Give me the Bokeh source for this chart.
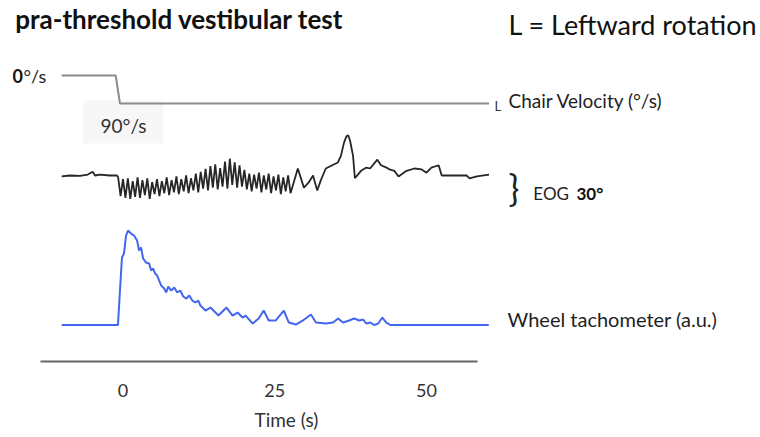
from bokeh.plotting import figure
from bokeh.models import Range1d, FixedTicker, Label, BoxAnnotation, Title
from bokeh.embed import file_html
from bokeh.resources import INLINE

# ---------------- data ----------------
time_ticks = [0, 25, 50]

# chair velocity (deg/s, leftward)
chair_time = [-10.1, -1.2, -0.5, 60.3]
chair_velocity = [0, 0, 90, 90]

# EOG (degrees)
eog_time = [-10.1, -8.8, -7.1, -5.8, -5.0, -4.6, -3.8, -2.2, -1.0,
            -0.8, -0.4, 0.0, 0.4, 0.8, 1.2, 1.6, 2.0, 2.4, 2.8, 3.2, 3.6,
            4.0, 4.4, 4.8, 5.2, 5.6, 6.0, 6.4, 6.8, 7.2, 7.6, 8.0, 8.4,
            8.8, 9.2, 9.6, 10.0, 10.4, 10.8, 11.2, 11.6, 12.0, 12.4, 12.8,
            13.2, 13.6, 14.0, 14.4, 14.8, 15.2, 15.6, 16.0, 16.4, 16.8, 17.2,
            17.6, 18.0, 18.4, 18.8, 19.2, 19.6, 20.0, 20.4, 20.8, 21.2, 21.6,
            22.0, 22.4, 22.8, 23.2, 23.6, 24.0, 24.4, 24.8, 25.2, 25.6, 26.0,
            26.4, 26.8, 27.2, 27.6,
            28.8, 29.8, 30.6, 31.3, 32.0, 32.6, 33.4, 34.8, 35.4, 35.9, 36.4,
            36.8, 37.1, 37.4, 37.9, 38.2, 38.7, 39.2, 40.1, 40.7, 41.9, 42.5,
            43.4, 43.9, 44.7, 45.4, 46.7, 48.0, 49.2, 50.0, 50.8, 52.0, 52.5,
            54.1, 56.6, 57.1, 58.3, 60.3]
eog_deg = [-1, 0, -0.5, 1, 4, 0, 1, 0, 0,
           -2, -22, -4, -24, -3, -25, -6, -23, -2, -24, -5, -21,
           -3, -25, -7, -20, -4, -22, -6, -19, -2, -21, -5, -18,
           -1, -20, -4, -17, 0, -19, -3, -16, 2, -18, 4,
           -14, 7, -16, 10, -13, 12, -15, 8, -12, 15, -14,
           18, -10, 14, -13, 11, -12, 6, -15, 2, -17, 1,
           -14, 3, -18, 0, -15, 2, -19, -1, -16, 1, -20,
           -2, -17, 0, -19,
           7.5, -13, -7.5, 0, -16, -5, 7.5, 12, 14, 21, 35,
           42, 43, 37.5, 21, -3, 1, 5, 8.5, 7.5, 17, 11,
           8.5, 6.5, 5, -1, 5, 7.5, 6.5, 3, 8.5, 11, 0,
           0, 0, -3, -1, 1]

# wheel tachometer (a.u.)
tach_time = [-10.1, -0.83, -0.50, -0.17, 0.17, 0.50, 0.83, 1.32, 1.82, 2.32,
             2.65, 2.98, 3.31, 3.81, 4.30, 4.64, 4.97, 5.30, 5.63, 5.96,
             6.29, 6.79, 7.12, 7.45, 7.95, 8.44, 8.94, 9.44, 9.93, 10.43,
             10.93, 11.42, 11.92, 12.42, 12.75, 13.58, 14.40, 14.90, 15.73,
             17.05, 18.05, 18.87, 19.70, 20.20, 21.36, 22.35, 23.18, 24.01,
             25.17, 26.49, 27.32, 28.48, 29.64, 30.96, 31.79, 33.44, 34.60,
             35.43, 36.26, 37.25, 38.08, 38.91, 39.57, 40.07, 40.73, 41.39,
             42.05, 42.72, 43.38, 44.04, 60.26]
tach_au = [0, 0, 0.365, 0.714, 0.757, 0.947, 1.0, 0.968, 0.947, 0.894,
           0.788, 0.820, 0.704, 0.661, 0.651, 0.577, 0.598, 0.545, 0.524, 0.471,
           0.418, 0.386, 0.344, 0.407, 0.365, 0.397, 0.344, 0.365, 0.302, 0.280,
           0.312, 0.259, 0.238, 0.259, 0.206, 0.153, 0.185, 0.153, 0.100,
           0.185, 0.100, 0.132, 0.079, 0.100, 0.016, 0.069, 0.153, 0.048,
           0.048, 0.153, 0.026, 0.005, 0.048, 0.111, 0.026, 0.016, 0.026,
           0.069, 0.026, 0.048, 0.069, 0.048, 0.058, 0.016, 0.026, 0.0,
           0.016, 0.079, 0.026, 0.0, 0.0]

# ---------------- figure ----------------
FONT = "Lato"
p = figure(width=760, height=437, output_backend="svg", toolbar_location=None,
           x_range=Range1d(-20.18, 105.02), y_range=Range1d(361, 0),
           y_axis_location=None,
           min_border_left=0, min_border_right=0,
           min_border_top=0, min_border_bottom=76)
p.extra_y_ranges = {
    "chair": Range1d(919.3, -241.1),
    "eog": Range1d(-199.4, 187.6),
    "tach": Range1d(-0.386, 3.434),
}
p.grid.visible = False
p.outline_line_color = None
p.background_fill_color = "white"
p.border_fill_color = "white"

ax = p.xaxis[0]
ax.ticker = FixedTicker(ticks=time_ticks)
ax.bounds = (-13.59, 58.40)
ax.axis_line_color = "#666666"
ax.axis_line_width = 2
ax.major_tick_line_color = None
ax.minor_tick_line_color = None
ax.major_tick_in = 0
ax.major_tick_out = 0
ax.major_label_standoff = 22
ax.major_label_text_font = FONT
ax.major_label_text_font_size = "18px"
ax.major_label_text_color = "#333333"

p.add_layout(Title(text="Time (s)", align="left", offset=254, standoff=13,
                   text_font=FONT, text_font_size="19px",
                   text_font_style="normal", text_color="#333333"), "below")

# faint box behind the 90 deg/s label
p.add_layout(BoxAnnotation(left=-6.5, right=6.67, top=100, bottom=143,
                           fill_color="#f7f7f7", fill_alpha=1.0,
                           line_color=None, level="underlay"))

p.line(chair_time, chair_velocity, y_range_name="chair",
       line_color="#8c8c8c", line_width=2)
p.line(eog_time, eog_deg, y_range_name="eog",
       line_color="#262626", line_width=1.8)
p.line(tach_time, tach_au, y_range_name="tach",
       line_color="#4466f0", line_width=2)


def lab(text, x, y, size, color="#333333", style="normal", align="left"):
    p.add_layout(Label(x=x, y=y, text=text, text_font=FONT,
                       text_font_size=size, text_color=color,
                       text_font_style=style, text_align=align,
                       text_baseline="middle"))


lab("pra-threshold vestibular test", 36.33, 18, "26px", "#111111", "bold", "right")
lab("L = Leftward rotation", 63.51, 24, "27px", "#111111")
lab("0", -18.2, 75, "18px", "#111111", "bold")
lab("°/s", -16.39, 75, "18px", "#222222")
lab("90°/s", -3.71, 125, "19px", "#333333")
lab("L", 61.2, 105, "13px", "#333333")
lab("Chair Velocity (°/s)", 63.51, 100, "19px", "#1e1e1e")
lab("}", 63.51, 187, "36px", "#222222")
lab("EOG", 67.6, 193, "17px", "#222222")
lab("30°", 74.7, 193, "17px", "#111111", "bold")
lab("Wheel tachometer (a.u.)", 63.35, 318, "20px", "#1e1e1e")

open("out.html", "w").write(file_html(p, INLINE))
